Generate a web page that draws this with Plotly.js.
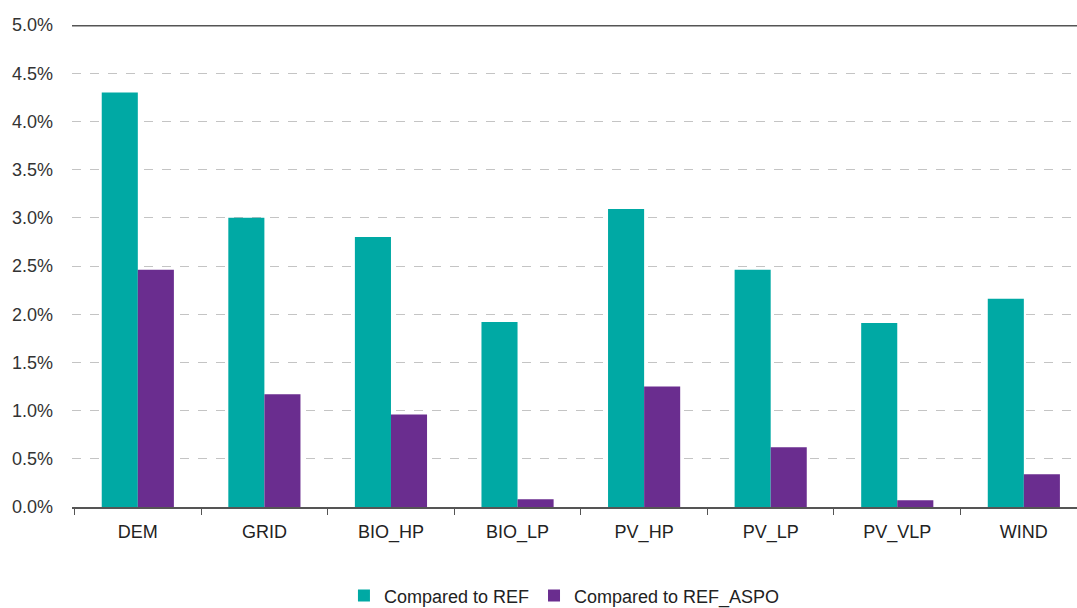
<!DOCTYPE html>
<html>
<head>
<meta charset="utf-8">
<script src="https://cdn.plot.ly/plotly-3.0.1.min.js"></script>
<style>html,body{margin:0;padding:0;background:#fff;}#chart{width:1077px;height:608px;}</style>
</head>
<body>
<div id="chart"></div>
<script>
const categories = ["DEM", "GRID", "BIO_HP", "BIO_LP", "PV_HP", "PV_LP", "PV_VLP", "WIND"];
const comparedToREF = [4.30, 3.00, 2.80, 1.92, 3.09, 2.46, 1.91, 2.16];
const comparedToREF_ASPO = [2.46, 1.17, 0.96, 0.08, 1.25, 0.62, 0.07, 0.34];
const seriesNames = ["Compared to REF", "Compared to REF_ASPO"];
const yTickVals = [0, 0.5, 1, 1.5, 2, 2.5, 3, 3.5, 4, 4.5, 5];
const yTickText = ["0.0%", "0.5%", "1.0%", "1.5%", "2.0%", "2.5%", "3.0%", "3.5%", "4.0%", "4.5%", "5.0%"];

const fontFam = "Liberation Sans, Arial, sans-serif";
const traces = [
  {type: "bar", name: seriesNames[0], x: categories, y: comparedToREF,
   marker: {color: "#00A9A4"}},
  {type: "bar", name: seriesNames[1], x: categories, y: comparedToREF_ASPO,
   marker: {color: "#6A2D8F"}}
];
const layout = {
  width: 1077, height: 608,
  margin: {l: 72, r: 0, t: 25, b: 101, autoexpand: false},
  paper_bgcolor: "#fff", plot_bgcolor: "#fff",
  barmode: "group", bargap: 0.43, bargroupgap: 0,
  font: {family: fontFam, size: 18, color: "#2a2a2a"},
  xaxis: {
    range: [-0.52, 7.42], showgrid: false, zeroline: false,
    showline: true, linecolor: "#555", linewidth: 1.5,
    ticks: "outside", tickson: "boundaries", ticklen: 6, tickcolor: "#555",
    ticklabelstandoff: 8, tickfont: {size: 18, color: "#222"}
  },
  yaxis: {
    range: [0, 5], tickvals: yTickVals, ticktext: yTickText,
    showgrid: true, gridcolor: "#c4c4c4", griddash: "dash", gridwidth: 1,
    zeroline: false, showline: false, ticks: "",
    ticklabelstandoff: 18, tickfont: {size: 18, color: "#333"}
  },
  shapes: [
    {type: "line", xref: "paper", yref: "y", x0: 0, x1: 1, y0: 5, y1: 5,
     line: {color: "#555", width: 3}}
  ],
  showlegend: true,
  legend: {orientation: "h", x: 0.49, xanchor: "center", yref: "container", y: 0.02, yanchor: "middle",
    font: {size: 18, color: "#222"}, itemwidth: 30, traceorder: "normal"}
};
Plotly.newPlot("chart", traces, layout, {displayModeBar: false, staticPlot: true});
</script>
</body>
</html>
